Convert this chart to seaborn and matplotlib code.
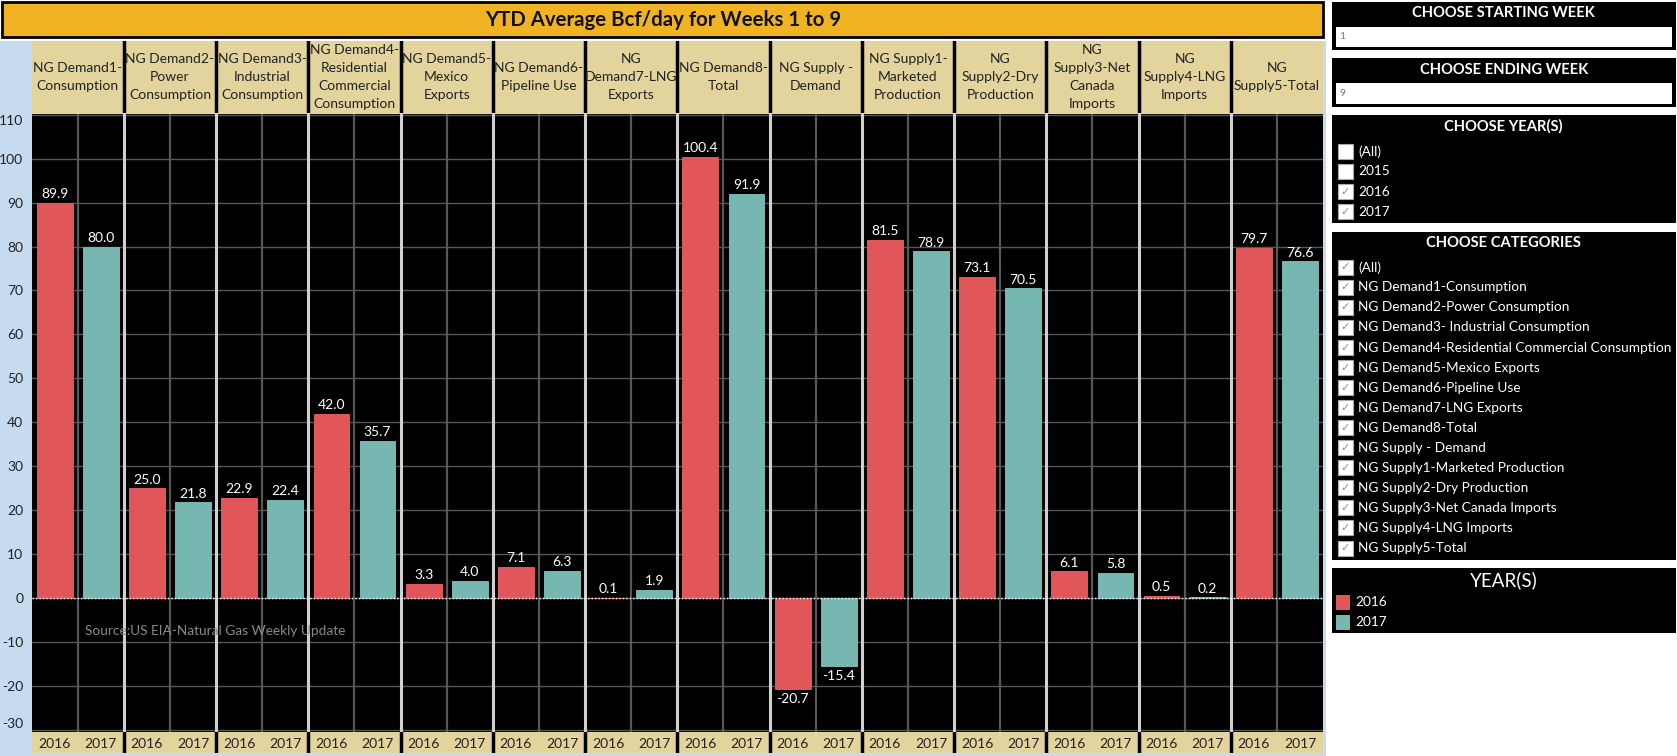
import matplotlib
matplotlib.use("Agg")
import matplotlib.pyplot as plt
from matplotlib.patches import Rectangle
import seaborn as sns
import pandas as pd

categories = [
    "NG Demand1-\nConsumption",
    "NG Demand2-\nPower\nConsumption",
    "NG Demand3-\nIndustrial\nConsumption",
    "NG Demand4-\nResidential\nCommercial\nConsumption",
    "NG Demand5-\nMexico\nExports",
    "NG Demand6-\nPipeline Use",
    "NG\nDemand7-LNG\nExports",
    "NG Demand8-\nTotal",
    "NG Supply -\nDemand",
    "NG Supply1-\nMarketed\nProduction",
    "NG\nSupply2-Dry\nProduction",
    "NG\nSupply3-Net\nCanada\nImports",
    "NG\nSupply4-LNG\nImports",
    "NG\nSupply5-Total",
]
years = ["2016", "2017"]
values_2016 = [89.9, 25.0, 22.9, 42.0, 3.3, 7.1, 0.1, 100.4, -20.7, 81.5, 73.1, 6.1, 0.5, 79.7]
values_2017 = [80.0, 21.8, 22.4, 35.7, 4.0, 6.3, 1.9, 91.9, -15.4, 78.9, 70.5, 5.8, 0.2, 76.6]
y_ticks = list(range(-30, 111, 10))
year_filter_items = [("(All)", False), ("2015", False), ("2016", True), ("2017", True)]
category_filter_items = [
    "(All)", "NG Demand1-Consumption", "NG Demand2-Power Consumption",
    "NG Demand3- Industrial Consumption", "NG Demand4-Residential Commercial Consumption",
    "NG Demand5-Mexico Exports", "NG Demand6-Pipeline Use", "NG Demand7-LNG Exports",
    "NG Demand8-Total", "NG Supply - Demand", "NG Supply1-Marketed Production",
    "NG Supply2-Dry Production", "NG Supply3-Net Canada Imports",
    "NG Supply4-LNG Imports", "NG Supply5-Total",
]
title = "YTD Average Bcf/day for Weeks 1 to 9"
source_note = "Source:US EIA-Natural Gas Weekly Update"

colors = {"2016": "#E15759", "2017": "#76B7B2"}
TAN = "#E3D49E"
BLUE = "#C6DAF0"
ORANGE = "#F0B323"

rows = []
for i, cat in enumerate(categories):
    for y, vals in zip(years, [values_2016, values_2017]):
        rows.append({"slot": f"{i}_{y}", "year": y, "value": vals[i], "cat": i})
df = pd.DataFrame(rows)
order = list(df["slot"])

sns.set_theme(style="white")
plt.rcParams["font.family"] = ["Lato", "DejaVu Sans"]

W, H = 1568.0, 707.0
def fx(x): return x / W
def fy(y): return 1 - y / H

fig = plt.figure(figsize=(16.77, 7.56), dpi=100)
fig.patch.set_facecolor("white")

# light blue strip behind axis area
fig.patches.append(Rectangle((0, 0), fx(1240), fy(38), transform=fig.transFigure,
                             facecolor=BLUE, edgecolor="none", zorder=-5))
# title box
fig.patches.append(Rectangle((fx(2), fy(35)), fx(1237) - fx(2), fy(2) - fy(35),
                             transform=fig.transFigure, facecolor=ORANGE,
                             edgecolor="black", lw=2, zorder=1))
fig.text(fx(620), fy(18.5), title, ha="center", va="center", fontsize=14.7,
         fontweight="bold", color="#111111", zorder=2)

n = len(categories)
xl = (-0.5, 2 * n - 0.5)
PX0, PX1 = 29.6, 1237
PTOP, PBOT = 106.6, 684.4

# main plot
ax = fig.add_axes([fx(PX0), fy(PBOT), fx(PX1) - fx(PX0), fy(PTOP) - fy(PBOT)])
ax.set_facecolor("black")
sns.barplot(data=df, x="slot", y="value", hue="year", order=order, hue_order=years,
            palette=colors, dodge=False, width=0.776, saturation=1, legend=False,
            linewidth=0, edgecolor="none", ax=ax, zorder=3)
for bar in ax.patches:
    bar.set_edgecolor(bar.get_facecolor())
    bar.set_linewidth(0.7)
ax.set_xlim(*xl)
ax.set_ylim(-30.4, 110.15)
ax.set_yticks(y_ticks)
ax.set_yticklabels([str(t) for t in y_ticks], fontsize=10, color="#222222")
ax.tick_params(axis="y", length=3, color="#dddddd", pad=3)
tl = ax.get_yticklabels()
tl[-1].set_va("top")
tl[0].set_va("bottom")
ax.set_xticks([])
ax.set_xlabel("")
ax.set_ylabel("")
for s in ax.spines.values():
    s.set_visible(False)
for t in y_ticks:
    ax.axhline(t, color="#575757", lw=1, zorder=1)
for i in range(n):
    ax.axvline(2 * i + 0.5, color="#575757", lw=1.6, zorder=1)
    if i > 0:
        ax.axvline(2 * i - 0.5, color="#d0d0d0", lw=2.2, zorder=2)
ax.axhline(0, color="white", ls=(0, (1, 1.5)), lw=1, zorder=4)

for bar in ax.patches:
    xc = bar.get_x() + bar.get_width() / 2
    idx = int(round(xc))
    v = df.iloc[idx]["value"]
    if v >= 0:
        ax.annotate(f"{v:.1f}", (xc, v), xytext=(0, 2), textcoords="offset points",
                    ha="center", va="bottom", color="white", fontsize=10, zorder=5)
    else:
        ax.annotate(f"{v:.1f}", (xc, v), xytext=(0, -3), textcoords="offset points",
                    ha="center", va="top", color="white", fontsize=10, zorder=5)

ax.text(0.646, -7.4, source_note, color="#8a8a8a", fontsize=9.8, ha="left",
        va="center", zorder=5)

# header row
hax = fig.add_axes([fx(PX0), fy(105.5), fx(PX1) - fx(PX0), fy(38.5) - fy(105.5)])
hax.set_facecolor(TAN)
hax.set_xlim(*xl)
hax.set_ylim(0, 1)
hax.set_xticks([]); hax.set_yticks([])
for s in hax.spines.values():
    s.set_visible(False)
for i, cat in enumerate(categories):
    hax.text(2 * i + 0.5, 0.5, cat, ha="center", va="center", fontsize=10,
             color="#222222", linespacing=1.6)
    if i > 0:
        hax.axvline(2 * i - 0.5, color="black", lw=2.5)

# year row
yax = fig.add_axes([fx(PX0), fy(704.5), fx(PX1) - fx(PX0), fy(PBOT) - fy(704.5)])
yax.set_facecolor(TAN)
yax.set_xlim(*xl)
yax.set_ylim(0, 1)
yax.set_xticks([]); yax.set_yticks([])
for s in yax.spines.values():
    s.set_visible(False)
for i in range(n):
    for j, y in enumerate(years):
        yax.text(2 * i + j, 0.45, y, ha="center", va="center", fontsize=10, color="#222222")
    if i > 0:
        yax.axvline(2 * i - 0.5, color="black", lw=2.5)

# right-side filter panels
RX0, RX1 = 1245, 1567
RXC = (RX0 + RX1) / 2

def box(y0, y1):
    fig.patches.append(Rectangle((fx(RX0), fy(y1)), fx(RX1) - fx(RX0), fy(y0) - fy(y1),
                                 transform=fig.transFigure, facecolor="black",
                                 edgecolor="none", zorder=1))

def input_box(y0, y1, txt):
    fig.patches.append(Rectangle((fx(RX0 + 4), fy(y1)), fx(RX1 - 4) - fx(RX0 + 4), fy(y0) - fy(y1),
                                 transform=fig.transFigure, facecolor="white",
                                 edgecolor="none", zorder=2))
    fig.text(fx(RX0 + 7), fy((y0 + y1) / 2), txt, ha="left", va="center",
             fontsize=7.5, color="#777777", zorder=3)

def checkbox(yc, label, checked):
    fig.patches.append(Rectangle((fx(1251), fy(yc + 7)), fx(14), fy(0) - fy(14),
                                 transform=fig.transFigure, facecolor="white",
                                 edgecolor="#aaaaaa", lw=0.8, zorder=2))
    if checked:
        fig.text(fx(1258), fy(yc), "\u2713", ha="center", va="center", fontsize=8,
                 color="#888888", family="DejaVu Sans", zorder=3)
    fig.text(fx(1270), fy(yc), label, ha="left", va="center", fontsize=9.8,
             color="white", zorder=3)

TS = 10.6
box(1.6, 47)
fig.text(fx(RXC), fy(12), "CHOOSE STARTING WEEK", ha="center", va="center",
         fontsize=TS, fontweight="bold", color="white", zorder=3)
input_box(25, 44, "1")

box(54.5, 100)
fig.text(fx(RXC), fy(65), "CHOOSE ENDING WEEK", ha="center", va="center",
         fontsize=TS, fontweight="bold", color="white", zorder=3)
input_box(78, 97, "9")

box(107.5, 209)
fig.text(fx(RXC), fy(118), "CHOOSE YEAR(S)", ha="center", va="center",
         fontsize=TS, fontweight="bold", color="white", zorder=3)
for k, (lab, chk) in enumerate(year_filter_items):
    checkbox(141.5 + 18.8 * k, lab, chk)

box(216.5, 523.5)
fig.text(fx(RXC), fy(227.5), "CHOOSE CATEGORIES", ha="center", va="center",
         fontsize=TS, fontweight="bold", color="white", zorder=3)
for k, lab in enumerate(category_filter_items):
    checkbox(250 + 18.75 * k, lab, True)

box(531, 592)
fig.text(fx(RXC), fy(543), "YEAR(S)", ha="center", va="center",
         fontsize=13.5, color="white", zorder=3)
for k, y in enumerate(years):
    yc = 563 + 19 * k
    fig.patches.append(Rectangle((fx(1249), fy(yc + 7)), fx(13), fy(0) - fy(14),
                                 transform=fig.transFigure, facecolor=colors[y],
                                 edgecolor="none", zorder=2))
    fig.text(fx(1267), fy(yc), y, ha="left", va="center", fontsize=9.8,
             color="white", zorder=3)

fig.savefig("out.png", dpi=100, facecolor="white")
